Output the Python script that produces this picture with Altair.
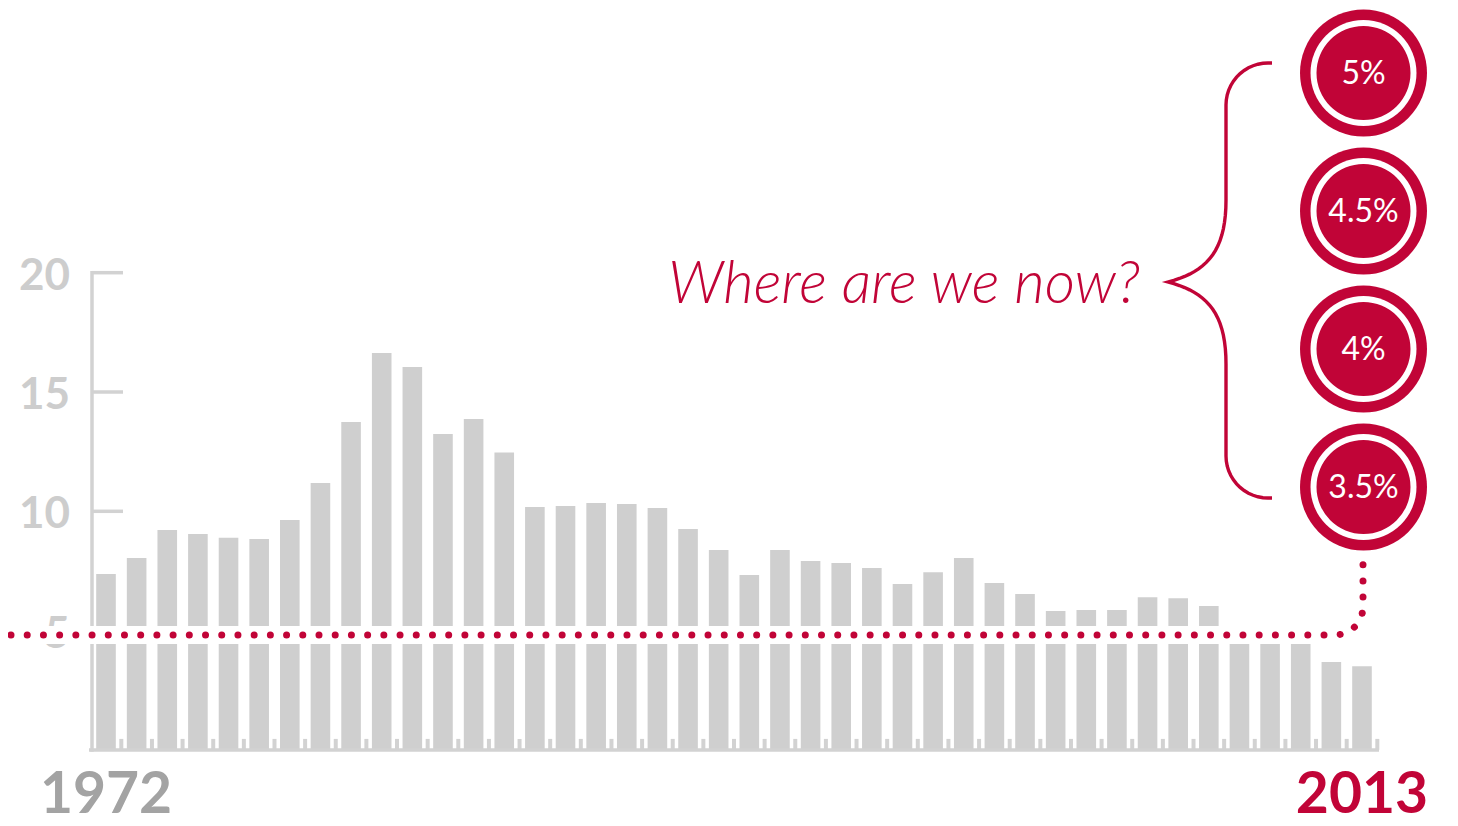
import altair as alt
import pandas as pd
import numpy as np

# ---------------- data ----------------
years = list(range(1972, 2014))
rates = [7.37, 8.04, 9.22, 9.05, 8.89, 8.84, 9.64, 11.19, 13.74, 16.63,
         16.05, 13.24, 13.87, 12.46, 10.18, 10.22, 10.35, 10.31, 10.14, 9.26,
         8.38, 7.33, 8.38, 7.92, 7.83, 7.62, 6.95, 7.45, 8.04, 6.99,
         6.53, 5.82, 5.86, 5.86, 6.40, 6.36, 6.03, 5.04, 4.69, 4.45,
         3.68, 3.51]
tick_values = [20, 15, 10, 5]
tick_labels = ["20", "15", "10", "5"]
target_labels = ["5%", "4.5%", "4%", "3.5%"]
question = "Where are we now?"
start_label = "1972"
end_label = "2013"

# ---------------- style ----------------
CRIMSON = "#c10437"
BAR = "#cfcfcf"
AXIS = "#d2d2d2"
LABEL = "#cdcdcd"
DARK = "#a3a3a3"
FONT = "Lato"

W, H = 1442, 818
PX_PER_YEAR = 30.634
PX_PER_UNIT = 23.86
X_ORIGIN = 106 - 8        # svg x of first year
Y_ZERO = 749.9 - 8        # svg y of value 0

x_dom = [years[0] - X_ORIGIN / PX_PER_YEAR, years[0] + (W - X_ORIGIN) / PX_PER_YEAR]
y_dom = [-(H - Y_ZERO) / PX_PER_UNIT, Y_ZERO / PX_PER_UNIT]


def fx(px):
    return years[0] + (px - 8 - X_ORIGIN) / PX_PER_YEAR


def fy(py):
    return (Y_ZERO - (py - 8)) / PX_PER_UNIT


xs = alt.Scale(domain=x_dom, nice=False, zero=False)
ys = alt.Scale(domain=y_dom, nice=False, zero=False)


def X(f):
    return alt.X(f, type="quantitative", scale=xs, axis=None)


def Y(f):
    return alt.Y(f, type="quantitative", scale=ys, axis=None)


half_bar = 9.8 / PX_PER_YEAR
bars_df = pd.DataFrame({"year": years, "rate": rates})
bars_df["x1"] = bars_df["year"] - half_bar
bars_df["x2"] = bars_df["year"] + half_bar
bars_df["base"] = 0.0

bars = alt.Chart(bars_df).mark_rect(color=BAR).encode(
    x=X("x1"), x2="x2", y=Y("rate"), y2="base")

# small ticks between bars at the bottom
half_tick = 2.0 / PX_PER_YEAR
tk = pd.DataFrame({"g": [y + 0.5 for y in years]})
tk["x1"] = tk["g"] - half_tick
tk["x2"] = tk["g"] + half_tick
tk["y1"] = 0.0
tk["y2"] = 11.0 / PX_PER_UNIT
gap_ticks = alt.Chart(tk).mark_rect(color=AXIS).encode(
    x=X("x1"), x2="x2", y=Y("y1"), y2="y2")

# x axis line
xline = alt.Chart(pd.DataFrame({"a": [fx(89)], "b": [fx(1379)], "y": [0.0]})).mark_rule(
    color=AXIS, strokeWidth=3.5).encode(x=X("a"), x2="b", y=Y("y"))

# y axis line
yline = alt.Chart(pd.DataFrame({"x": [fx(92)], "a": [0.0], "b": [20.0]})).mark_rule(
    color=AXIS, strokeWidth=3.5, strokeCap="square").encode(x=X("x"), y=Y("a"), y2="b")

ydf = pd.DataFrame({"v": tick_values, "lab": tick_labels})
ydf["a"] = fx(92)
ydf["b"] = fx(123)
ydf["lx"] = fx(70)
yticks = alt.Chart(ydf).mark_rule(color=AXIS, strokeWidth=3.5).encode(
    x=X("a"), x2="b", y=Y("v"))
ylabels = alt.Chart(ydf).mark_text(
    font=FONT, fontSize=44, fontWeight="bold", color=LABEL, align="right",
    baseline="alphabetic", dy=17).encode(x=X("lx"), y=Y("v"), text="lab")

# white band behind dotted line
band = alt.Chart(pd.DataFrame({"a": [x_dom[0]], "b": [fx(1345)],
                               "c": [fy(644)], "d": [fy(626)]})).mark_rect(
    color="white").encode(x=X("a"), x2="b", y=Y("c"), y2="d")

# dotted path
pts = [(11, 635), (1335, 635)]
for t in np.linspace(0, np.pi / 2, 12)[1:]:
    pts.append((1335 + 28 * np.sin(t), 607 + 28 * np.cos(t)))
pts.append((1363, 563))
dot_df = pd.DataFrame({"i": range(len(pts)),
                       "x": [fx(p[0]) for p in pts],
                       "y": [fy(p[1]) for p in pts]})
dots = alt.Chart(dot_df).mark_line(
    color=CRIMSON, strokeWidth=7, strokeCap="round", strokeDash=[0.01, 16.2]).encode(
    x=X("x"), y=Y("y"), order="i:Q")

# bracket
def bez(p0, p1, p2, p3, n=20):
    out = []
    for t in np.linspace(0, 1, n):
        a = (1 - t) ** 3
        b = 3 * (1 - t) ** 2 * t
        c = 3 * (1 - t) * t ** 2
        d = t ** 3
        out.append((a * p0[0] + b * p1[0] + c * p2[0] + d * p3[0],
                    a * p0[1] + b * p1[1] + c * p2[1] + d * p3[1]))
    return out

br = [(1272, 63)]
for t in np.linspace(np.pi / 2, np.pi, 14):
    br.append((1268 + 42 * np.cos(t), 105 - 42 * np.sin(t)))
br += bez((1226, 200), (1226, 252), (1206, 272), (1168, 282))
br += bez((1168, 282), (1206, 292), (1226, 312), (1226, 364))
for t in np.linspace(np.pi, 1.5 * np.pi, 14):
    br.append((1268 + 42 * np.cos(t), 456 - 42 * np.sin(t)))
br.append((1272, 498))
br_df = pd.DataFrame({"i": range(len(br)),
                      "x": [fx(p[0]) for p in br],
                      "y": [fy(p[1]) for p in br]})
bracket = alt.Chart(br_df).mark_line(color=CRIMSON, strokeWidth=3.4).encode(
    x=X("x"), y=Y("y"), order="i:Q")

# circles
cy = [73, 211, 349, 487]
cdf = pd.DataFrame({"lab": target_labels,
                    "x": [fx(1363.5)] * 4,
                    "y": [fy(c) for c in cy]})
c_outer = alt.Chart(cdf).mark_circle(color=CRIMSON, opacity=1, size=127 ** 2).encode(
    x=X("x"), y=Y("y"))
c_white = alt.Chart(cdf).mark_circle(color="white", opacity=1, size=106 ** 2).encode(
    x=X("x"), y=Y("y"))
c_inner = alt.Chart(cdf).mark_circle(color=CRIMSON, opacity=1, size=94 ** 2).encode(
    x=X("x"), y=Y("y"))
c_text = alt.Chart(cdf).mark_text(font=FONT, fontSize=32, color="white",
                                  baseline="alphabetic", dy=11).encode(
    x=X("x"), y=Y("y"), text="lab")

# question
q = alt.Chart(pd.DataFrame({"t": [question], "x": [fx(1140)], "y": [fy(303)]})).mark_text(
    font=FONT, fontSize=59, fontStyle="italic", fontWeight=300, color=CRIMSON,
    align="right", baseline="alphabetic").encode(x=X("x"), y=Y("y"), text="t")

# year labels
yl = pd.DataFrame({"t": [start_label, end_label], "x": [years[0], years[-1]],
                   "y": [fy(813)] * 2, "c": [DARK, CRIMSON]})
year_labels = alt.Chart(yl).mark_text(
    font=FONT, fontSize=57, fontWeight="bold", align="center",
    baseline="alphabetic").encode(
    x=X("x"), y=Y("y"), text="t", color=alt.Color("c:N", scale=None))

chart = alt.layer(
    bars, gap_ticks, xline, yline, yticks, ylabels, band, dots, bracket,
    c_outer, c_white, c_inner, c_text, q, year_labels
).properties(
    width=W, height=H, autosize=alt.AutoSizeParams(type="none"), padding=0
).configure_view(stroke=None)

chart.save("out.html", embed_options={"renderer": "svg", "actions": False})
